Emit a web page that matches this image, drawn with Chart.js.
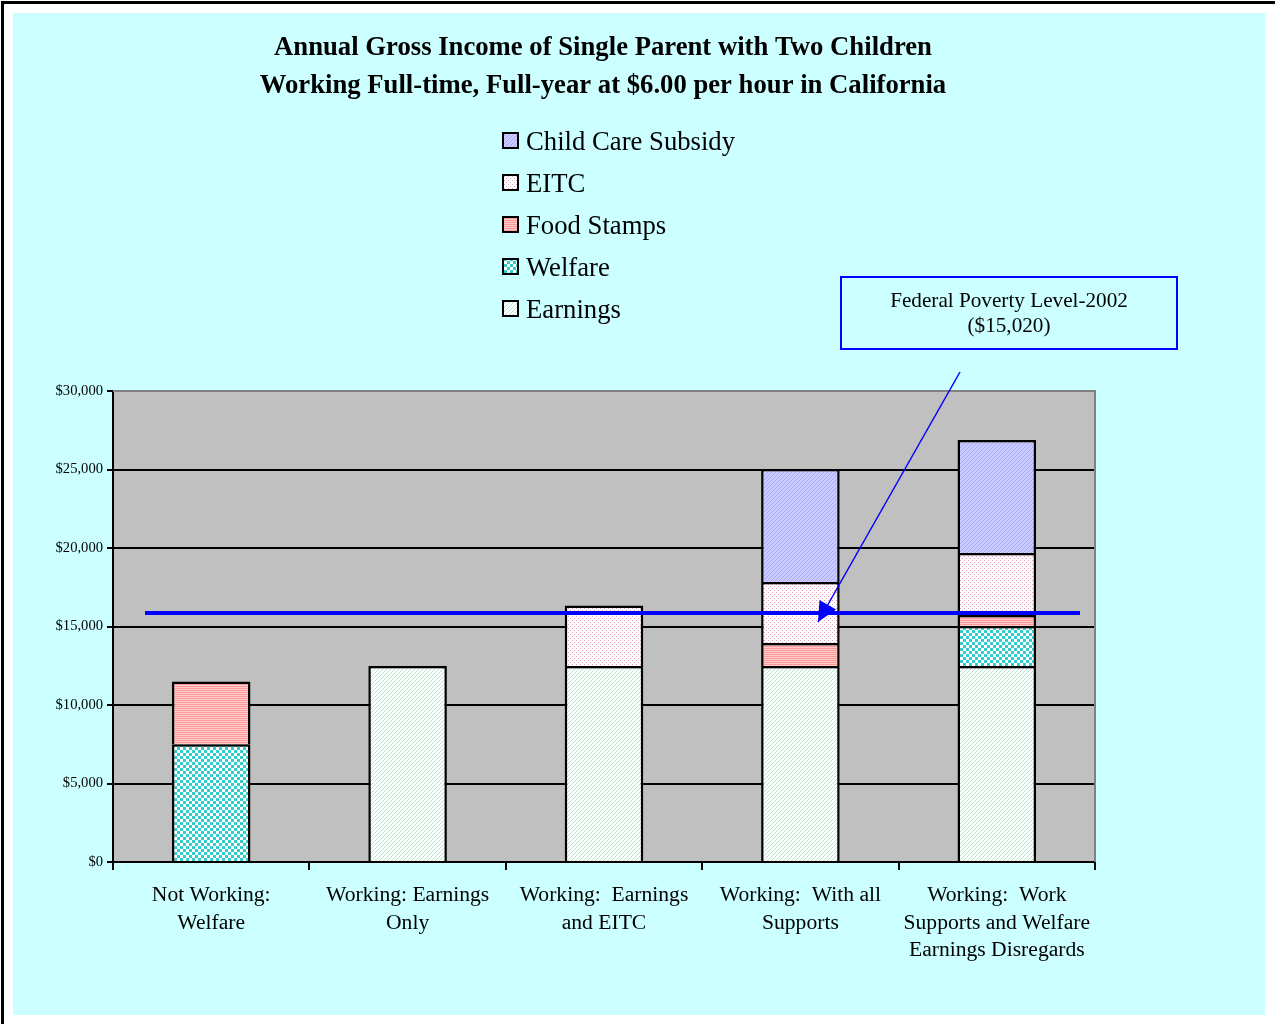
<!DOCTYPE html>
<html>
<head>
  <meta charset="UTF-8">
  <title>Annual Gross Income of Single Parent with Two Children</title>
  <script src="https://cdn.jsdelivr.net/npm/chart.js"></script>
  <style>
    body { margin: 0; padding: 0; background: white; }
    canvas { display: block; }
  </style>
</head>
<body>
  <canvas id="grafica" width="1275" height="1024"></canvas>

  <script type="text/javascript">
    // categorias y series (en dolares)
    const categorias = [
      ['Not Working:', 'Welfare'],
      ['Working: Earnings', 'Only'],
      ['Working:  Earnings', 'and EITC'],
      ['Working:  With all', 'Supports'],
      ['Working:  Work', 'Supports and Welfare', 'Earnings Disregards']
    ];
    const earnings   = [null, 12480, 12480, 12480, 12480];
    const welfare    = [7500, null, null, null, 2550];
    const foodStamps = [4000, null, null, 1470, 700];
    const eitc       = [null, null, 3850, 3880, 3950];
    const childCare  = [null, null, null, 7200, 7200];

    const titulo = [
      'Annual Gross Income of Single Parent with Two Children',
      'Working Full-time, Full-year at $6.00 per hour in California'
    ];
    const notaPobreza = ['Federal Poverty Level-2002', '($15,020)'];
    const lineaPobreza = 15860; // donde esta dibujada la linea azul

    const canvas = document.getElementById('grafica');
    const ctx = canvas.getContext('2d');

    function patron(w, h, dibujar) {
      const c = document.createElement('canvas');
      c.width = w; c.height = h;
      dibujar(c.getContext('2d'));
      return ctx.createPattern(c, 'repeat');
    }

    const patEarnings = patron(4, 4, g => {
      g.fillStyle = '#ffffff'; g.fillRect(0, 0, 4, 4);
      g.fillStyle = '#b4e4cc';
      for (let i = 0; i < 4; i++) g.fillRect(i, 3 - i, 1, 1);
    });
    const patWelfare = patron(6, 6, g => {
      g.fillStyle = '#ffffff'; g.fillRect(0, 0, 6, 6);
      g.fillStyle = '#33cccc';
      g.fillRect(0, 0, 3, 3); g.fillRect(3, 3, 3, 3);
    });
    const patFood = patron(1, 2, g => {
      g.fillStyle = '#ff9999'; g.fillRect(0, 0, 1, 1);
      g.fillStyle = '#ffcccc'; g.fillRect(0, 1, 1, 1);
    });
    const patEitc = patron(4, 4, g => {
      g.fillStyle = '#ffffff'; g.fillRect(0, 0, 4, 4);
      g.fillStyle = '#e0a0b8';
      g.fillRect(0, 0, 1, 1); g.fillRect(2, 2, 1, 1);
    });
    const patChild = patron(4, 4, g => {
      g.fillStyle = '#ccccff'; g.fillRect(0, 0, 4, 4);
      g.fillStyle = '#a6a6ff';
      for (let i = 0; i < 4; i++) g.fillRect(i, 3 - i, 1, 1);
    });

    const fuente = '"Liberation Serif", "Times New Roman", serif';

    // fondo, titulo, leyenda, linea de pobreza y nota
    const decoracion = {
      id: 'decoracion',
      beforeDraw(chart) {
        const c = chart.ctx;
        const a = chart.chartArea;
        c.save();
        c.fillStyle = '#ffffff';
        c.fillRect(0, 0, chart.width, chart.height);
        c.fillStyle = '#000000';
        c.fillRect(1, 1, chart.width - 1, 3);
        c.fillRect(1, 1, 3, chart.height - 1);
        c.fillStyle = '#ccffff';
        c.fillRect(13, 13, 1252, 1002);
        c.fillStyle = '#c0c0c0';
        c.fillRect(a.left, a.top, a.right - a.left, a.bottom - a.top);
        c.restore();
      },
      afterDatasetsDraw(chart) {
        const c = chart.ctx;
        const a = chart.chartArea;
        const y = chart.scales.y.getPixelForValue(lineaPobreza);
        c.save();
        // borde gris arriba y a la derecha
        c.strokeStyle = '#808080';
        c.lineWidth = 2;
        c.beginPath();
        c.moveTo(a.left, a.top); c.lineTo(a.right, a.top); c.lineTo(a.right, a.bottom);
        c.stroke();

        // linea azul
        c.strokeStyle = '#0000ff';
        c.lineWidth = 4;
        c.beginPath();
        c.moveTo(a.left + 32, y);
        c.lineTo(a.right - 15, y);
        c.stroke();

        // flecha
        const x0 = 960, y0 = 372, x1 = 818, y1 = y + 9;
        c.lineWidth = 1.5;
        c.beginPath(); c.moveTo(x0, y0); c.lineTo(x1, y1); c.stroke();
        const ang = Math.atan2(y1 - y0, x1 - x0);
        c.fillStyle = '#0000ff';
        c.beginPath();
        c.moveTo(x1, y1);
        c.lineTo(x1 - 22 * Math.cos(ang - 0.45), y1 - 22 * Math.sin(ang - 0.45));
        c.lineTo(x1 - 22 * Math.cos(ang + 0.45), y1 - 22 * Math.sin(ang + 0.45));
        c.closePath(); c.fill();

        // nota
        c.lineWidth = 2;
        c.strokeRect(841, 277, 336, 72);
        c.fillStyle = '#000000';
        c.font = '21.2px ' + fuente;
        c.textAlign = 'center';
        c.textBaseline = 'middle';
        c.fillText(notaPobreza[0], 1009, 301);
        c.fillText(notaPobreza[1], 1009, 326);

        // titulo
        c.font = 'bold 26.7px ' + fuente;
        c.fillText(titulo[0], 603, 48);
        c.fillText(titulo[1], 603, 86);

        // leyenda (orden inverso)
        c.font = '26.7px ' + fuente;
        c.textAlign = 'left';
        const ds = chart.data.datasets.slice().reverse();
        ds.forEach((d, i) => {
          const yc = 141 + i * 42;
          c.fillStyle = d.backgroundColor;
          c.fillRect(503, yc - 8, 15, 15);
          c.strokeStyle = '#000000';
          c.lineWidth = 2;
          c.strokeRect(503, yc - 8, 15, 15);
          c.fillStyle = '#000000';
          c.fillText(d.label, 526, yc + 2);
        });
        c.restore();
      }
    };

    const comun = { borderColor: '#000000', borderWidth: 2.5, borderSkipped: 'start',
                    barPercentage: 0.4, categoryPercentage: 1.0 };

    new Chart(ctx, {
      type: 'bar',
      data: {
        labels: categorias,
        datasets: [
          Object.assign({ label: 'Earnings', data: earnings, backgroundColor: patEarnings }, comun),
          Object.assign({ label: 'Welfare', data: welfare, backgroundColor: patWelfare }, comun),
          Object.assign({ label: 'Food Stamps', data: foodStamps, backgroundColor: patFood }, comun),
          Object.assign({ label: 'EITC', data: eitc, backgroundColor: patEitc }, comun),
          Object.assign({ label: 'Child Care Subsidy', data: childCare, backgroundColor: patChild }, comun)
        ]
      },
      options: {
        responsive: false,
        animation: false,
        devicePixelRatio: 1,
        layout: { padding: { left: 0, top: 391, right: 180, bottom: 0 } },
        plugins: { legend: { display: false }, tooltip: { enabled: false } },
        scales: {
          x: {
            stacked: true,
            afterFit: s => { s.height = 162; },
            grid: { offset: true, drawOnChartArea: false, color: '#000000', lineWidth: 2, tickLength: 8 },
            border: { color: '#000000', width: 2 },
            ticks: { color: '#000000', font: { family: fuente, size: 21.6, lineHeight: 1.27 },
                     padding: 12, maxRotation: 0, autoSkip: false }
          },
          y: {
            stacked: true,
            min: 0, max: 30000,
            afterFit: s => { s.width = 113; },
            grid: {
              color: c => (c.tick && c.tick.value === 30000) ? '#808080' : '#000000',
              tickColor: '#000000', lineWidth: 2, tickLength: 6
            },
            border: { color: '#000000', width: 2 },
            ticks: {
              stepSize: 5000, color: '#000000', padding: 4,
              font: { family: fuente, size: 14.6 },
              callback: v => '$' + v.toLocaleString('en-US')
            }
          }
        }
      },
      plugins: [decoracion]
    });
  </script>
</body>
</html>
